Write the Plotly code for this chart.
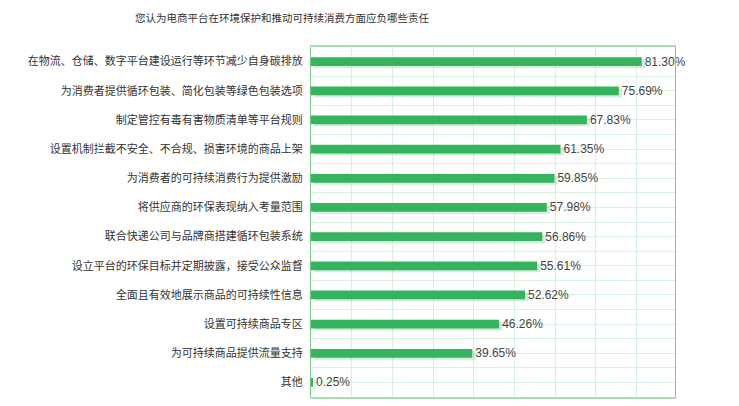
import plotly.graph_objects as go

title = "您认为电商平台在环境保护和推动可持续消费方面应负哪些责任"
categories = [
    "在物流、仓储、数字平台建设运行等环节减少自身碳排放",
    "为消费者提供循环包装、简化包装等绿色包装选项",
    "制定管控有毒有害物质清单等平台规则",
    "设置机制拦截不安全、不合规、损害环境的商品上架",
    "为消费者的可持续消费行为提供激励",
    "将供应商的环保表现纳入考量范围",
    "联合快递公司与品牌商搭建循环包装系统",
    "设立平台的环保目标并定期披露，接受公众监督",
    "全面且有效地展示商品的可持续性信息",
    "设置可持续商品专区",
    "为可持续商品提供流量支持",
    "其他",
]
values = [81.30, 75.69, 67.83, 61.35, 59.85, 57.98, 56.86, 55.61, 52.62, 46.26, 39.65, 0.25]

n = len(categories)
ypos = list(range(n))

font_family = "Noto Sans CJK SC, Noto Sans, sans-serif"
grid_color = "#d9efdf"
BODY = 8  # default page body margin

fig = go.Figure()
# soft shadow under each bar
fig.add_trace(go.Bar(
    x=values,
    y=ypos,
    base=0.8,
    orientation="h",
    width=0.3,
    offset=-0.08,
    marker=dict(color="rgba(53,179,94,0.22)", line=dict(width=0)),
    hoverinfo="skip",
))
fig.add_trace(go.Bar(
    x=values,
    y=ypos,
    orientation="h",
    width=0.3,
    offset=-0.15,
    marker=dict(color="#35b35e", line=dict(width=0)),
    text=[f"{v:.2f}%" for v in values],
    textposition="outside",
    constraintext="none",
    textfont=dict(size=12, color="#444444", family="Liberation Sans, Arial, sans-serif"),
    cliponaxis=False,
    hoverinfo="skip",
))

fig.update_layout(
    width=739 - BODY,
    height=406 - BODY,
    margin=dict(l=311 - BODY, r=64, t=47 - BODY, b=9),
    barmode="overlay",
    paper_bgcolor="white",
    plot_bgcolor="white",
    showlegend=False,
    font=dict(family=font_family, color="#333333"),
    title=dict(
        text=title,
        x=(282 - BODY) / (739 - BODY),
        xanchor="center",
        y=1 - (18 - BODY) / (406 - BODY),
        yanchor="middle",
        font=dict(size=10.5, color="#333333", family=font_family),
    ),
)

fig.update_xaxes(
    range=[0, 89.5],
    dtick=10,
    showticklabels=False,
    showgrid=True,
    gridcolor=grid_color,
    gridwidth=1,
    zeroline=False,
    showline=True,
    linecolor="#a8dcb4",
    linewidth=1.5,
    mirror=True,
    ticks="",
)

fig.update_yaxes(
    range=[n - 0.5, -0.5],
    tickmode="array",
    tickvals=ypos,
    ticktext=categories,
    tickfont=dict(size=11, color="#333333", family=font_family),
    ticks="",
    ticklen=0,
    ticklabelstandoff=5,
    showgrid=True,
    gridcolor=grid_color,
    gridwidth=1,
    zeroline=False,
    showline=True,
    linecolor="#7cc98f",
    linewidth=1,
    mirror=True,
    minor=dict(
        tickmode="linear",
        tick0=0.5,
        dtick=1,
        showgrid=True,
        gridcolor=grid_color,
        gridwidth=1,
    ),
)

fig.write_html("out.html")
